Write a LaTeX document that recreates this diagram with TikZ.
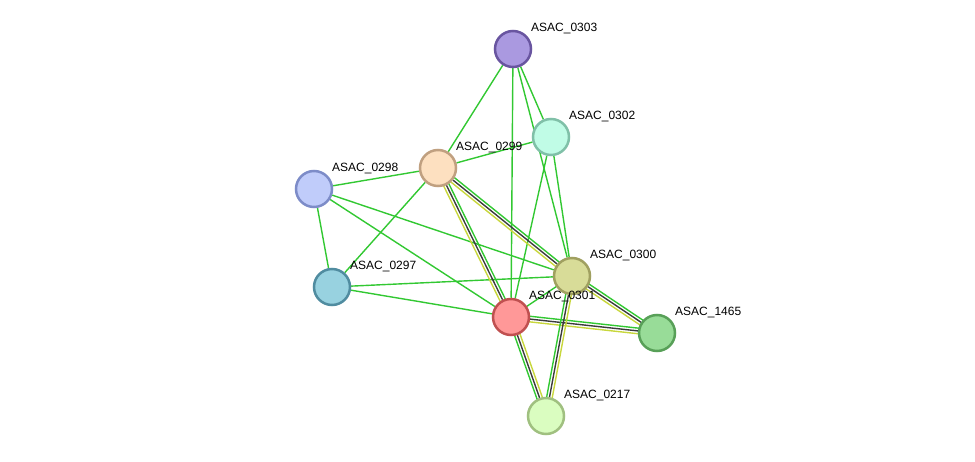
\documentclass[tikz,border=0pt]{standalone}
\usepackage{fontspec}
\setmainfont{Liberation Sans}
\usetikzlibrary{calc,backgrounds}
\definecolor{eg}{RGB}{50,200,50}
\definecolor{ek}{RGB}{60,60,60}
\definecolor{ey}{RGB}{200,215,60}
\tikzset{
  x=1pt,y=-1pt,
  prot/.style={circle,minimum size=36pt,inner sep=0pt,line width=2.5pt},
  lab/.style={anchor=west,inner sep=0pt,font=\fontsize{12}{14}\selectfont},
  gedge/.style={draw=eg,line width=1.4pt},
  kedge/.style={draw=ek,line width=1.4pt},
  yedge/.style={draw=ey,line width=1.4pt}
}
\newcommand{\tri}[2]{%
  \draw[gedge] ($(#1)!2.8pt!90:(#2)$) -- ($(#2)!2.8pt!-90:(#1)$);
  \draw[kedge] (#1) -- (#2);
  \draw[yedge] ($(#1)!2.8pt!-90:(#2)$) -- ($(#2)!2.8pt!90:(#1)$);
}
\begin{document}
\begin{tikzpicture}
\useasboundingbox (0,0) rectangle (975,462);
\node[prot,fill={rgb,255:red,170;green,153;blue,224},draw={rgb,255:red,105;green,85;blue,160}] (p0303) at (513,49) {};
\node[prot,fill={rgb,255:red,192;green,252;blue,230},draw={rgb,255:red,128;green,192;blue,168}] (p0302) at (551,137) {};
\node[prot,fill={rgb,255:red,253;green,224;blue,192},draw={rgb,255:red,192;green,160;blue,128}] (p0299) at (438,168) {};
\node[prot,fill={rgb,255:red,192;green,204;blue,250},draw={rgb,255:red,125;green,140;blue,200}] (p0298) at (314,189) {};
\node[prot,fill={rgb,255:red,152;green,210;blue,224},draw={rgb,255:red,80;green,140;blue,160}] (p0297) at (332,287) {};
\node[prot,fill={rgb,255:red,216;green,220;blue,152},draw={rgb,255:red,160;green,160;blue,96}] (p0300) at (572,276) {};
\node[prot,fill={rgb,255:red,255;green,152;blue,152},draw={rgb,255:red,192;green,80;blue,80}] (p0301) at (511,317) {};
\node[prot,fill={rgb,255:red,152;green,220;blue,152},draw={rgb,255:red,88;green,160;blue,88}] (p1465) at (657,333) {};
\node[prot,fill={rgb,255:red,218;green,253;blue,192},draw={rgb,255:red,160;green,192;blue,128}] (p0217) at (546,416) {};
\begin{scope}[on background layer]
\foreach \a/\b in {p0303/p0299,p0303/p0301,p0303/p0302,p0303/p0300,p0302/p0299,p0302/p0301,p0302/p0300,p0299/p0298,p0299/p0297,p0298/p0297,p0298/p0300,p0298/p0301,p0297/p0300,p0297/p0301,p0301/p0300}
  \draw[gedge] (\a) -- (\b);
\tri{p0299}{p0300}
\tri{p0299}{p0301}
\tri{p0301}{p1465}
\tri{p0217}{p0301}
\tri{p0300}{p1465}
\tri{p0217}{p0300}
\end{scope}
\node[lab] (l0303) at ($(p0303)+(18,-20)$) {ASAC\_0303};
\node[lab] (l0302) at ($(p0302)+(18,-20)$) {ASAC\_0302};
\node[lab] (l0299) at ($(p0299)+(18,-20)$) {ASAC\_0299};
\node[lab] (l0298) at ($(p0298)+(18,-20)$) {ASAC\_0298};
\node[lab] (l0297) at ($(p0297)+(18,-20)$) {ASAC\_0297};
\node[lab] (l0300) at ($(p0300)+(18,-20)$) {ASAC\_0300};
\node[lab] (l0301) at ($(p0301)+(18,-20)$) {ASAC\_0301};
\node[lab] (l1465) at ($(p1465)+(18,-20)$) {ASAC\_1465};
\node[lab] (l0217) at ($(p0217)+(18,-20)$) {ASAC\_0217};
\end{tikzpicture}
\end{document}
